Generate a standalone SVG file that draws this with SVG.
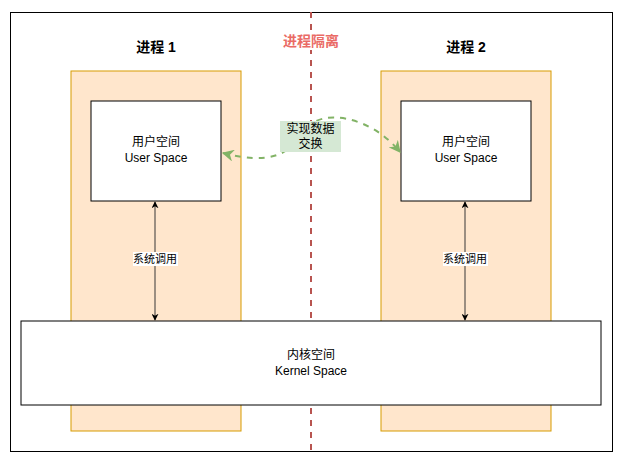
<svg xmlns="http://www.w3.org/2000/svg" width="621" height="463" viewBox="0 0 621 463">
<defs>
<style>
text{font-family:"Liberation Sans","Noto Sans CJK SC",Arial,sans-serif;text-anchor:middle;fill:#000}
.proc{fill:#ffe6cc;stroke:#d79b00;stroke-width:1}
.box{fill:#fff;stroke:#000;stroke-width:1}
.t12{font-size:12px}
.t11{font-size:11px}
.title{font-size:14px;font-weight:bold}
.sys{stroke:#7a7068;stroke-width:1.5;fill:none}
</style>
<marker id="ah" viewBox="0 0 10 10" refX="9" refY="5" markerWidth="7" markerHeight="7" orient="auto-start-reverse" markerUnits="userSpaceOnUse">
<path d="M0,0 L10,5 L0,10 L3,5 Z" fill="#000"/>
</marker>
<marker id="gh" viewBox="0 0 10 10" refX="9" refY="5" markerWidth="12" markerHeight="12" orient="auto-start-reverse" markerUnits="userSpaceOnUse">
<path d="M0,0 L10,5 L0,10 L3,5 Z" fill="#82b366"/>
</marker>
</defs>
<rect x="10.5" y="12.5" width="602" height="439" fill="#fff" stroke="#000" stroke-width="1"/>
<g id="proc1">
<rect class="proc" x="71" y="71" width="170" height="360"/>
<text class="title" x="156" y="52">进程 1</text>
</g>
<g id="proc2">
<rect class="proc" x="381" y="71" width="170" height="360"/>
<text class="title" x="466" y="52">进程 2</text>
</g>
<g id="isolation">
<line x1="311" y1="12" x2="311" y2="451" stroke="#b85450" stroke-width="2" stroke-dasharray="6 6"/>
<rect x="283" y="33" width="56" height="17" fill="#fff"/>
<text x="311" y="46" style="font-size:14px;font-weight:bold;fill:#ea6b66">进程隔离</text>
</g>
<g id="user1">
<rect class="box" x="91" y="101" width="130" height="100"/>
<text class="t12" x="156" y="146">用户空间</text>
<text class="t12" x="156" y="162">User Space</text>
</g>
<g id="user2">
<rect class="box" x="401" y="101" width="130" height="100"/>
<text class="t12" x="466" y="146">用户空间</text>
<text class="t12" x="466" y="162">User Space</text>
</g>
<g id="kernel">
<rect class="box" x="21" y="321" width="580" height="84"/>
<text class="t12" x="311" y="359">内核空间</text>
<text class="t12" x="311" y="375">Kernel Space</text>
</g>
<g id="connectors">
<line class="sys" x1="155" y1="202" x2="155" y2="320" marker-start="url(#ah)" marker-end="url(#ah)"/>
<rect x="133" y="252" width="45" height="14" fill="#fff"/>
<text class="t11" x="155" y="263">系统调用</text>
<line class="sys" x1="465" y1="202" x2="465" y2="320" marker-start="url(#ah)" marker-end="url(#ah)"/>
<rect x="443" y="252" width="45" height="14" fill="#fff"/>
<text class="t11" x="465" y="263">系统调用</text>
<path d="M223,153 C270,165 290,155 305,130 C320,108 370,115 400,152" fill="none" stroke="#82b366" stroke-width="2" stroke-dasharray="6 6" marker-start="url(#gh)" marker-end="url(#gh)"/>
<rect x="280" y="121" width="61" height="31" fill="#d5e8d4"/>
<text class="t12" x="310.5" y="133">实现数据</text>
<text class="t12" x="310.5" y="148">交换</text>
</g>
</svg>
